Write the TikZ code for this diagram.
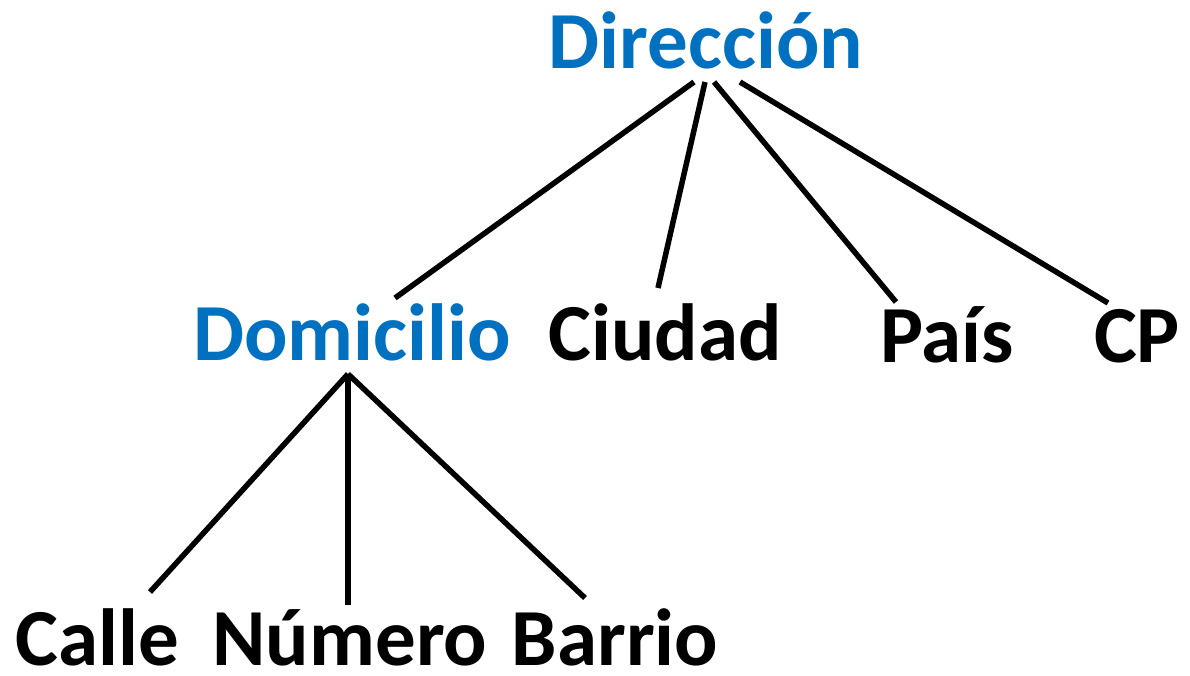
\documentclass[tikz,border=0pt]{standalone}
\usepackage{fontspec}
\setmainfont{Carlito}
\definecolor{hblue}{RGB}{0,112,192}
\begin{document}
\begin{tikzpicture}[x=1pt,y=-1pt,
  lbl/.style={inner sep=0pt,anchor=base,font=\fontsize{81}{96}\selectfont\bfseries},
  head/.style={lbl,text=hblue},
  edge/.style={line width=5.5pt}]
\useasboundingbox (0,0) rectangle (1190,675);
\node[head] (dir) at (706,68) {Dirección};
\node[head] (dom) at (352,360) {Domicilio};
\node[lbl] (ciu) at (665,360) {Ciudad};
\node[lbl] (pai) at (947,362) {País};
\node[lbl] (cp) at (1137,362) {CP};
\node[lbl] (cal) at (97,665) {Calle};
\node[lbl] (num) at (350,665) {Número};
\node[lbl] (bar) at (615,665) {Barrio};
% attachment points
\coordinate (d1) at (694,82);
\coordinate (d2) at (705,82);
\coordinate (d3) at (714,82);
\coordinate (d4) at (740,82);
\coordinate (domT) at (395,298);
\coordinate (ciuT) at (658,288);
\coordinate (paiT) at (896,302);
\coordinate (cpT) at (1108,303);
\coordinate (domB) at (348,374);
\coordinate (calT) at (150,592);
\coordinate (numT) at (348,605);
\coordinate (barT) at (585,598);
\draw[edge] (d1) -- (domT);
\draw[edge] (d2) -- (ciuT);
\draw[edge] (d3) -- (paiT);
\draw[edge] (d4) -- (cpT);
\draw[edge] (domB) -- (calT);
\draw[edge] (domB) -- (numT);
\draw[edge] (domB) -- (barT);
\end{tikzpicture}
\end{document}
